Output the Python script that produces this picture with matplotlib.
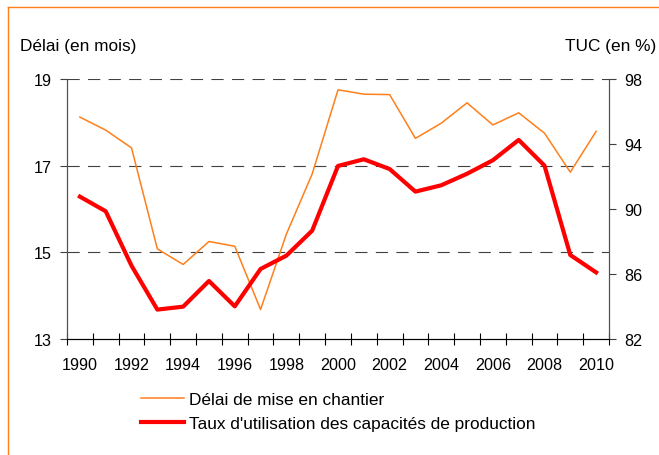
import numpy as np
import matplotlib.pyplot as plt
from matplotlib.lines import Line2D

plt.rcParams['font.family'] = ['Liberation Sans', 'DejaVu Sans']

years = list(range(1990, 2011))
delai = [18.12, 17.82, 17.41, 15.08, 14.72, 15.25, 15.14, 13.68, 15.42, 16.81,
         18.75, 18.65, 18.64, 17.63, 17.98, 18.45, 17.94, 18.22, 17.75, 16.85, 17.79]
tuc = [90.76, 89.86, 86.51, 83.81, 83.99, 85.57, 84.01, 86.31, 87.13, 88.67,
       92.65, 93.06, 92.46, 91.07, 91.46, 92.17, 93.0, 94.25, 92.67, 87.17, 86.1]
left_ticks = [13, 15, 17, 19]
right_ticks = [82, 86, 90, 94, 98]

orange = '#FF7F1A'
red = '#FF0000'
tick_fs = 11.6
text_fs = 12.4

fig = plt.figure(figsize=(6.59, 4.56), dpi=100)
ax = fig.add_axes([67 / 659, 1 - 340 / 456, 542 / 659, 260 / 456])
ax2 = ax.twinx()

# gridlines at left ticks (15, 17, 19)
for v in [15, 17, 19]:
    ax.axhline(v, color='#404040', lw=0.8, ls=(0, (11, 7.5)), zorder=0)

ax.plot(years, delai, color=orange, lw=1.1, zorder=3)
ax2.plot(years, tuc, color=red, lw=3.0, zorder=3)

ax.set_xlim(1989.5, 2010.5)
ax.set_ylim(13, 19)
ax2.set_ylim(82, 98)
ax.set_yticks(left_ticks)
ax2.set_yticks(right_ticks)
ax.set_xticks(years[::2])
ax.set_xticks(np.arange(1989.5, 2011, 1), minor=True)
ax.tick_params(axis='x', which='major', length=0, pad=13, labelsize=tick_fs)
ax.tick_params(axis='x', which='minor', length=9, direction='inout', width=0.8)
ax.tick_params(axis='y', length=5, width=0.8, labelsize=tick_fs, pad=6, color='#404040')
ax2.tick_params(axis='y', length=5, width=0.8, labelsize=tick_fs, pad=6, color='#404040')

for a in (ax, ax2):
    a.spines['top'].set_visible(False)
    a.spines['left'].set_color('#505050')
    a.spines['right'].set_color('#505050')
    a.spines['bottom'].set_color('black')
    for s in a.spines.values():
        s.set_linewidth(0.8)

fig.text(20 / 659, 1 - 47 / 456, 'Délai (en mois)', fontsize=text_fs, va='center', ha='left')
fig.text(656 / 659, 1 - 47 / 456, 'TUC (en %)', fontsize=text_fs, va='center', ha='right')

handles = [Line2D([], [], color=orange, lw=1.1),
           Line2D([], [], color=red, lw=3.0)]
fig.legend(handles, ['Délai de mise en chantier',
                     "Taux d'utilisation des capacités de production"],
           loc='upper left', bbox_to_anchor=(134 / 659, 1 - 386 / 456),
           frameon=False, fontsize=text_fs, handlelength=2.5, handletextpad=0.3,
           labelspacing=0.5, borderaxespad=0)

# orange frame on the left and top
fig.add_artist(Line2D([8 / 659, 8 / 659], [0, 1 - 8 / 456], color=orange, lw=1.0,
                      transform=fig.transFigure))
fig.add_artist(Line2D([8 / 659, 1], [1 - 8 / 456, 1 - 8 / 456], color=orange, lw=1.0,
                      transform=fig.transFigure))

fig.savefig('out.png', dpi=100)
